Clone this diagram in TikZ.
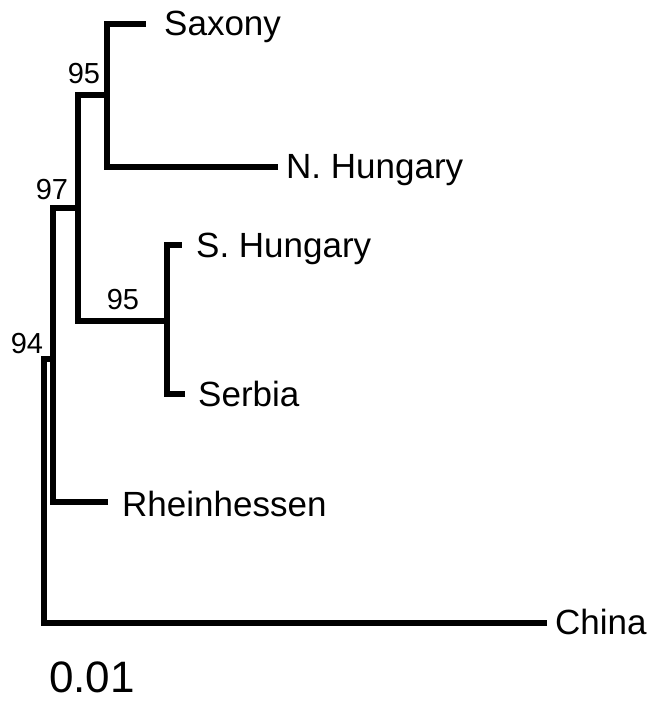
\documentclass[tikz,border=0pt]{standalone}
\usepackage{fontspec}
\setmainfont{Liberation Sans}
\begin{document}
\begin{tikzpicture}[x=1pt,y=-1pt,
  branch/.style={line width=5.5pt, line join=miter, line cap=butt},
  taxon/.style={anchor=base west, inner sep=0pt, font=\fontsize{35}{35}\selectfont},
  support/.style={anchor=base, inner sep=0pt, font=\fontsize{29}{29}\selectfont}]
\useasboundingbox[fill=white] (0,0) rectangle (651,701);

% internal nodes and branch tips
\coordinate (c0top)   at (44,359);
\coordinate (c94mid)  at (53,359);
\coordinate (c94top)  at (53,208);
\coordinate (c97mid)  at (78,208);
\coordinate (c97top)  at (78,95);
\coordinate (c95amid) at (107,95);
\coordinate (c95atop) at (107,24);
\coordinate (c95bmid) at (167,321);
\coordinate (c95btop) at (167,245);
\coordinate (tipSax)   at (146,24);
\coordinate (tipNH)    at (278,167);
\coordinate (tipSH)    at (182,245);
\coordinate (tipSerb)  at (185,394);
\coordinate (tipRhein) at (108,502);
\coordinate (tipChina) at (547,623);

% branches
\draw[branch] (tipChina) -| (c0top) -- (c94mid);
\draw[branch] (tipRhein) -| (c94top) -- (c97mid);
\draw[branch] (c95bmid) -| (c97top) -- (c95amid);
\draw[branch] (tipNH) -| (c95atop) -- (tipSax);
\draw[branch] (tipSerb) -| (c95btop) -- (tipSH);

% taxa
\node[taxon] (saxony)   at (164,36)  {Saxony};
\node[taxon] (nhungary) at (286,178) {N. Hungary};
\node[taxon] (shungary) at (196,257) {S. Hungary};
\node[taxon] (serbia)   at (198,406) {Serbia};
\node[taxon] (rhein)    at (122,516) {Rheinhessen};
\node[taxon] (china)    at (555,634) {China};

% bootstrap support
\node[support] (bs95a) at (84,83)  {95};
\node[support] (bs97)  at (52,199) {97};
\node[support] (bs95b) at (123,309) {95};
\node[support] (bs94)  at (27,353) {94};

% scale
\node[anchor=base, inner sep=0pt, font=\fontsize{44}{44}\selectfont] (scale) at (92,692) {0.01};
\end{tikzpicture}
\end{document}
